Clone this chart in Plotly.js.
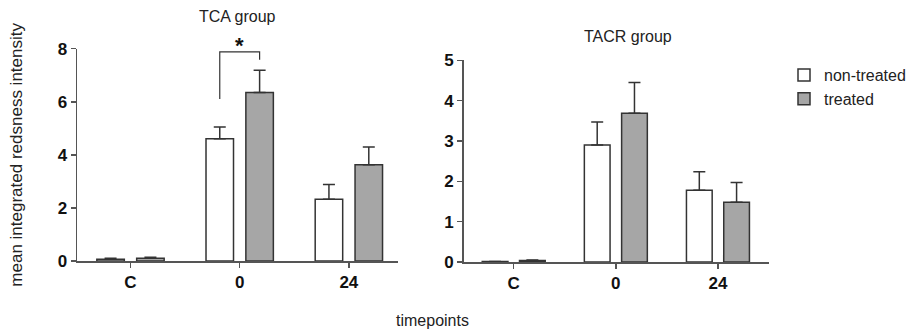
<!DOCTYPE html>
<html><head><meta charset="utf-8">
<script src="https://cdn.plot.ly/plotly-3.0.1.min.js"></script>
<style>html,body{margin:0;padding:0;background:#fff}#chart{width:913px;height:329px}</style>
</head><body><div id="chart"></div>
<script>
// ---- data ----
const categories = ["C", "0", "24"];
const tcaNonTreated = [0.07, 4.61, 2.33];
const tcaNonTreatedErr = [0.03, 0.44, 0.55];
const tcaTreated = [0.10, 6.35, 3.63];
const tcaTreatedErr = [0.04, 0.84, 0.67];
const tacrNonTreated = [0.01, 2.90, 1.78];
const tacrNonTreatedErr = [0.0, 0.57, 0.46];
const tacrTreated = [0.04, 3.69, 1.48];
const tacrTreatedErr = [0.01, 0.76, 0.49];
const seriesNames = ["non-treated", "treated"];
const panelTitles = ["TCA group", "TACR group"];
// significance bracket (TCA, timepoint 0): leg bottoms and top in data units
const sigGroup = 1;
const sigLeftBottom = 6.1, sigTop = 7.88, sigRightBottom = 7.58;
const sigLabel = "*";

// ---- style ----
const FONT = "Liberation Sans, Arial, sans-serif";
const LINE = "#333333";
const AX = "#555555";
const GREY = "#a6a6a6";
const bargap = 0.27, bargroupgap = 0.31;
const halfOffset = (1 - bargap) / 4;

function barTrace(y, err, name, fill, xa, ya, show) {
  return {
    type: "bar", x: categories, y: y, name: name,
    xaxis: xa, yaxis: ya, showlegend: show, legendgroup: name,
    marker: {color: fill, line: {color: LINE, width: 1.5}},
    error_y: {type: "data", array: err, arrayminus: err.map(() => 0), symmetric: false,
              color: LINE, thickness: 1.5, width: 6},
    hoverinfo: "y"
  };
}

const data = [
  barTrace(tcaNonTreated, tcaNonTreatedErr, seriesNames[0], "#ffffff", "x", "y", true),
  barTrace(tcaTreated, tcaTreatedErr, seriesNames[1], GREY, "x", "y", true),
  barTrace(tacrNonTreated, tacrNonTreatedErr, seriesNames[0], "#ffffff", "x2", "y2", false),
  barTrace(tacrTreated, tacrTreatedErr, seriesNames[1], GREY, "x2", "y2", false)
];

const tickFont = {family: FONT, size: 17, color: "#111", weight: "bold"};
function xAxis(domain, range, anchor) {
  return {domain: domain, anchor: anchor, type: "category", range: range,
    showline: true, linecolor: AX, linewidth: 1.5, ticks: "outside", ticklen: 5,
    tickcolor: AX, tickwidth: 1.5, showgrid: false, zeroline: false,
    tickfont: tickFont, fixedrange: true};
}
function yAxis(domain, range, dtick, anchor) {
  return {domain: domain, anchor: anchor, range: range, dtick: dtick,
    showline: true, linecolor: AX, linewidth: 1.5, ticks: "outside", ticklen: 5,
    tickcolor: AX, tickwidth: 1.5, showgrid: false, zeroline: false,
    tickfont: tickFont, fixedrange: true};
}

const W = 913, H = 329;
const txt = {family: FONT, size: 16, color: "#222"};
const layout = {
  width: W, height: H,
  margin: {l: 0, r: 0, t: 0, b: 0},
  paper_bgcolor: "#fff", plot_bgcolor: "rgba(0,0,0,0)",
  barmode: "group", bargap: bargap, bargroupgap: bargroupgap,
  font: {family: FONT, color: "#222"},
  xaxis: xAxis([77/W, 398/W], [-0.49, 2.45], "y"),
  yaxis: Object.assign(yAxis([(H-261)/H, (H-48.7)/H], [0, 8], 2, "x"),
    {title: {text: "mean integrated redsness intensity", font: {family: FONT, size: 17, color: "#222"}, standoff: 30}}),
  xaxis2: xAxis([463.7/W, 769/W], [-0.49, 2.5], "y2"),
  yaxis2: yAxis([(H-262)/H, (H-60.3)/H], [0, 5], 1, "x2"),
  legend: {x: 784/W, y: (H-58)/H, xanchor: "left", yanchor: "top",
    font: txt, tracegroupgap: 0, bgcolor: "rgba(0,0,0,0)"},
  annotations: [
    {text: panelTitles[0], xref: "paper", yref: "paper", x: 237/W, y: (H-17)/H, showarrow: false,
     xanchor: "center", yanchor: "middle", font: txt},
    {text: panelTitles[1], xref: "paper", yref: "paper", x: 628/W, y: (H-37)/H, showarrow: false,
     xanchor: "center", yanchor: "middle", font: txt},
    {text: "timepoints", xref: "paper", yref: "paper", x: 432/W, y: (H-320)/H, showarrow: false,
     xanchor: "center", yanchor: "middle", font: txt},
    {text: sigLabel, xref: "x", yref: "y", x: sigGroup, y: sigTop, yshift: 6, showarrow: false,
     xanchor: "center", yanchor: "middle", font: {family: FONT, size: 22, color: "#111", weight: "bold"}}
  ],
  shapes: [
    {type: "path", xref: "x", yref: "y",
     path: `M${sigGroup - halfOffset},${sigLeftBottom} L${sigGroup - halfOffset},${sigTop} L${sigGroup + halfOffset},${sigTop} L${sigGroup + halfOffset},${sigRightBottom}`,
     line: {color: "#333", width: 1.2}}
  ]
};

Plotly.newPlot("chart", data, layout, {displayModeBar: false, staticPlot: true});
</script>
</body></html>
